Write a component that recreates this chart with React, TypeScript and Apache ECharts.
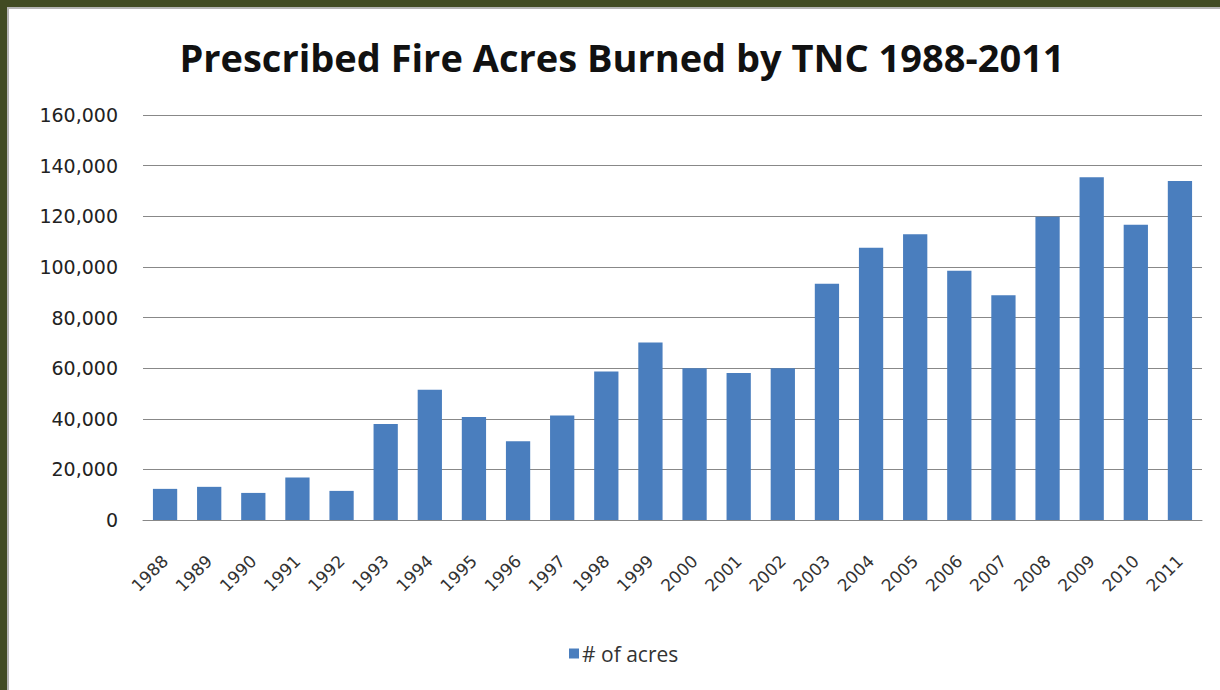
import React, { useEffect, useRef } from "react";
import * as echarts from "echarts";

const years = ["1988","1989","1990","1991","1992","1993","1994","1995","1996","1997","1998","1999","2000","2001","2002","2003","2004","2005","2006","2007","2008","2009","2010","2011"];
const acres = [12300,13100,10700,16800,11500,37900,51500,40700,31100,41300,58700,70100,60000,58100,60000,93300,107600,112900,98500,88800,119800,135400,116600,133900];
const seriesName = "# of acres";
const titleText = "Prescribed Fire Acres Burned by TNC 1988-2011";

export default function App() {
  const ref = useRef<HTMLDivElement>(null);
  useEffect(() => {
    if (!ref.current) return;
    const chart = echarts.init(ref.current, null, { renderer: "svg" });
    chart.setOption({
      animation: false,
      title: {
        text: titleText,
        left: 617,
        textAlign: "center",
        top: 33,
        textStyle: { fontFamily: "Open Sans", fontWeight: "bold", fontSize: 38, color: "#111" },
      },
      grid: { left: 143, right: 18, top: 115, bottom: 170, containLabel: false },
      legend: {
        data: [seriesName],
        left: 564,
        top: 638,
        icon: "rect",
        itemWidth: 10,
        itemHeight: 10,
        itemGap: 5,
        textStyle: { fontFamily: "Open Sans", fontSize: 21, color: "#333", padding: [0, 0, 0, -2] },
      },
      xAxis: {
        type: "category",
        data: years,
        axisLine: { lineStyle: { color: "#888", width: 1 } },
        axisTick: { show: false },
        axisLabel: { rotate: 45, fontFamily: "DejaVu Sans", fontSize: 17, color: "#333", margin: 38, interval: 0 },
      },
      yAxis: {
        type: "value",
        min: 0,
        max: 160000,
        interval: 20000,
        axisLine: { show: false },
        axisTick: { show: false },
        splitLine: { lineStyle: { color: "#888", width: 1 } },
        axisLabel: {
          fontFamily: "DejaVu Sans",
          fontSize: 19,
          color: "#222",
          margin: 25,
          formatter: (v: number) => v.toLocaleString("en-US"),
        },
      },
      series: [
        {
          name: seriesName,
          type: "bar",
          data: acres,
          barCategoryGap: "45%",
          itemStyle: { color: "#4a7ebe" },
        },
      ],
    });
    return () => chart.dispose();
  }, []);
  return (
    <div style={{ position: "fixed", left: 0, top: 0, width: 1220, height: 690, background: "#414b23", overflow: "hidden" }}>
      <div style={{ position: "absolute", left: 7, top: 7, width: 1220, height: 690, background: "#fff", borderLeft: "2px solid #b5b5b5", borderTop: "2px solid #b5b5b5" }} />
      <div ref={ref} style={{ position: "absolute", left: 0, top: 0, width: 1220, height: 690 }} />
    </div>
  );
}
